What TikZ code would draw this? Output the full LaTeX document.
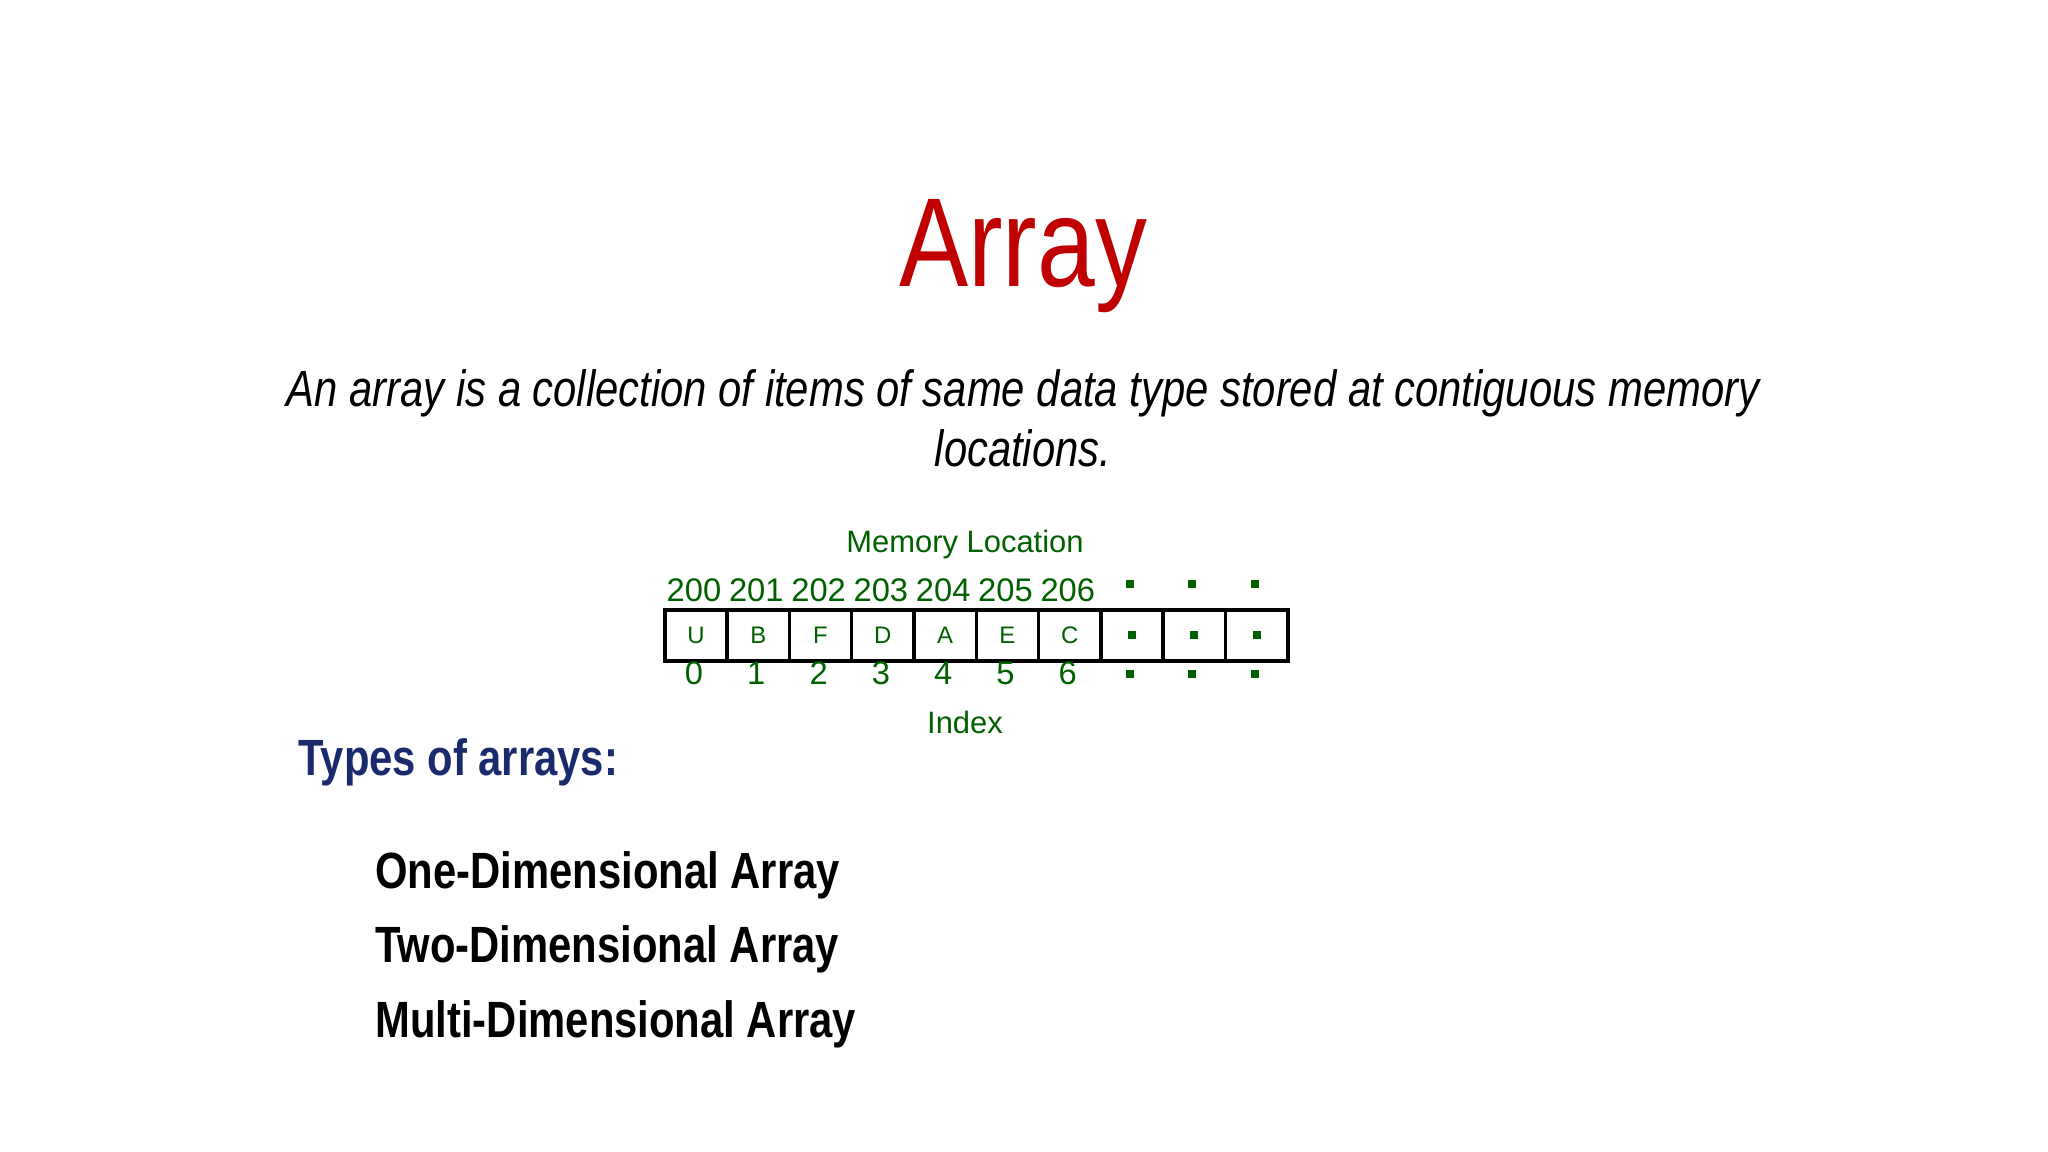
\documentclass[tikz,border=0pt]{standalone}
\usepackage{fontspec}
\setmainfont{Liberation Sans}
\newfontfamily\narrowf[FakeStretch=0.82]{Liberation Sans}
\definecolor{tred}{HTML}{C00000}
\definecolor{gr}{HTML}{006000}
\definecolor{navy}{HTML}{1A2A6C}
\begin{document}
\begin{tikzpicture}[x=0.1mm,y=-0.1mm,
  cell/.style={draw=black,line width=1pt,minimum width=6.23mm,minimum height=5.1mm,inner sep=0,anchor=north west,text=gr,font=\fontsize{6.8}{8}\selectfont},
  num/.style={text=gr,font=\fontsize{9.3}{11}\selectfont},
  dotm/.style={fill=gr,minimum size=0.8mm,inner sep=0}]
\useasboundingbox (0,0) rectangle (2048,1152);
\node[text=tred,font=\narrowf\fontsize{36}{42}\selectfont] (title) at (1023,256) {Array};
\node[font=\narrowf\itshape\fontsize{14.5}{17}\selectfont,align=center] (def) at (1023,418) {An array is a collection of items of same data type stored at contiguous memory\\locations.};
\node[num,font=\fontsize{8.8}{10}\selectfont] (ml) at (965,545) {Memory Location};
\foreach \t [count=\i from 0] in {U,B,F,D,A,E,C}{
  \node[cell] (c\i) at (663+62.3*\i,608) {\t};
  \node[num] (m\i) at (694+62.3*\i,590) {\the\numexpr200+\i\relax};
  \node[num] (x\i) at (694+62.3*\i,673) {\i};
}
\foreach \i in {7,8,9}{
  \node[cell] (c\i) at (663+62.3*\i,608) {};
  \node[dotm] (cd\i) at (c\i.center) {};
  \node[dotm] (md\i) at (694+62.3*\i,584) {};
  \node[dotm] (xd\i) at (694+62.3*\i,674) {};
}
\node[num,font=\fontsize{8.8}{10}\selectfont] (idx) at (965,722) {Index};
\node[anchor=west,text=navy,font=\narrowf\bfseries\fontsize{14.5}{17}\selectfont] (types) at (286,762) {Types of arrays:};
\node[anchor=west,font=\narrowf\bfseries\fontsize{14.5}{17}\selectfont] (one) at (363,875) {One-Dimensional Array};
\node[anchor=west,font=\narrowf\bfseries\fontsize{14.5}{17}\selectfont] (two) at (363,949) {Two-Dimensional Array};
\node[anchor=west,font=\narrowf\bfseries\fontsize{14.5}{17}\selectfont] (multi) at (363,1024) {Multi-Dimensional Array};
\end{tikzpicture}
\end{document}
